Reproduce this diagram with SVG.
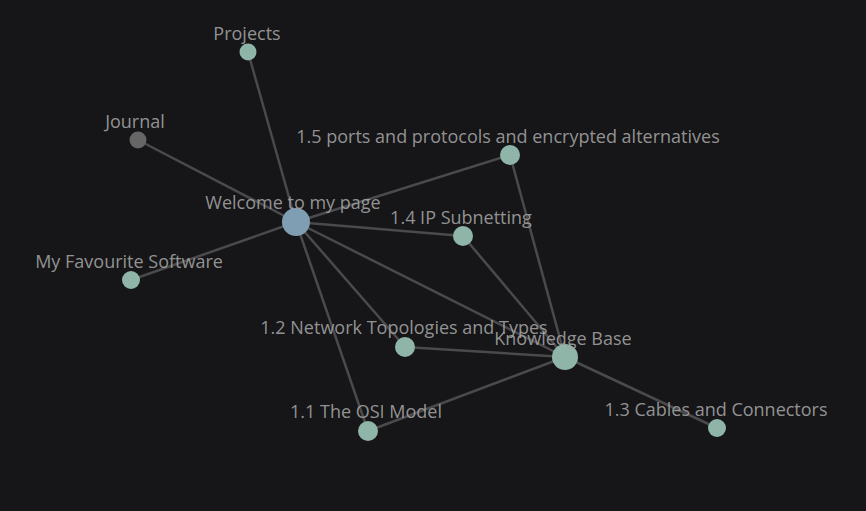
<svg xmlns="http://www.w3.org/2000/svg" width="866" height="511" viewBox="0 0 866 511">
<style>
.e{stroke:#4a4a4c;stroke-width:2.5;fill:none}
.n{fill:#8fb5a8}
.t{font-family:"Open Sans","Noto Sans",sans-serif;font-size:18px;fill:#a3a3a3;fill-opacity:0.9;text-anchor:middle}
</style>
<rect width="866" height="511" fill="#161618"/>
<g id="edges">
<line class="e" x1="296" y1="222" x2="248" y2="52"/>
<line class="e" x1="296" y1="222" x2="138" y2="140"/>
<line class="e" x1="296" y1="222" x2="510" y2="155"/>
<line class="e" x1="296" y1="222" x2="463" y2="236"/>
<line class="e" x1="296" y1="222" x2="131" y2="280"/>
<line class="e" x1="296" y1="222" x2="405" y2="347"/>
<line class="e" x1="296" y1="222" x2="565" y2="357"/>
<line class="e" x1="296" y1="222" x2="368" y2="431"/>
<line class="e" x1="565" y1="357" x2="510" y2="155"/>
<line class="e" x1="565" y1="357" x2="463" y2="236"/>
<line class="e" x1="565" y1="357" x2="405" y2="347"/>
<line class="e" x1="565" y1="357" x2="368" y2="431"/>
<line class="e" x1="565" y1="357" x2="717" y2="428"/>
</g>
<g id="projects"><circle class="n" cx="248" cy="52" r="8.5"/><text class="t" x="247" y="40">Projects</text></g>
<g id="journal"><circle cx="138" cy="140" r="8.5" fill="#666"/><text class="t" x="135" y="128">Journal</text></g>
<g id="welcome"><circle cx="296" cy="222" r="14" fill="#7f9db3"/><text class="t" x="293" y="209">Welcome to my page</text></g>
<g id="n15"><circle class="n" cx="510" cy="155" r="10"/><text class="t" x="508" y="143">1.5 ports and protocols and encrypted alternatives</text></g>
<g id="n14"><circle class="n" cx="463" cy="236" r="10"/><text class="t" x="461" y="224">1.4 IP Subnetting</text></g>
<g id="fav"><circle class="n" cx="131" cy="280" r="9"/><text class="t" x="129" y="268">My Favourite Software</text></g>
<g id="n12"><circle class="n" cx="405" cy="347" r="10"/><text class="t" x="404" y="334">1.2 Network Topologies and Types</text></g>
<g id="kb"><circle class="n" cx="565" cy="357" r="13"/><text class="t" x="563" y="345">Knowledge Base</text></g>
<g id="n11"><circle class="n" cx="368" cy="431" r="10"/><text class="t" x="366" y="418">1.1 The OSI Model</text></g>
<g id="n13"><circle class="n" cx="717" cy="428" r="9"/><text class="t" x="716" y="416">1.3 Cables and Connectors</text></g>
</svg>
